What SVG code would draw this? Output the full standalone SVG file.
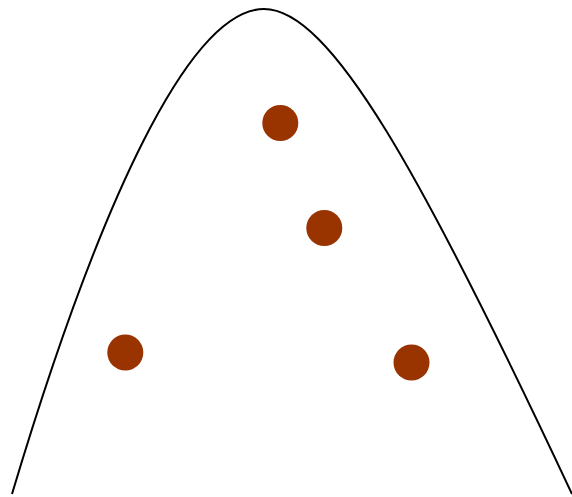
<svg xmlns="http://www.w3.org/2000/svg" width="572" height="497" viewBox="0 0 572 497">
<style>
.curve{fill:none;stroke:#000;stroke-width:2}
.dot{fill:#993300}
</style>
<rect width="572" height="497" fill="#fff"/>
<g id="connectors">
<path class="curve" d="M12,494 C100,200 190,9 264,9 C330,9 420,170 572,494"/>
</g>
<g id="dot1"><circle class="dot" cx="280.3" cy="123" r="18"/></g>
<g id="dot2"><circle class="dot" cx="324.3" cy="228" r="18"/></g>
<g id="dot3"><circle class="dot" cx="125.3" cy="352.5" r="18"/></g>
<g id="dot4"><circle class="dot" cx="411.5" cy="362.5" r="18"/></g>
</svg>
